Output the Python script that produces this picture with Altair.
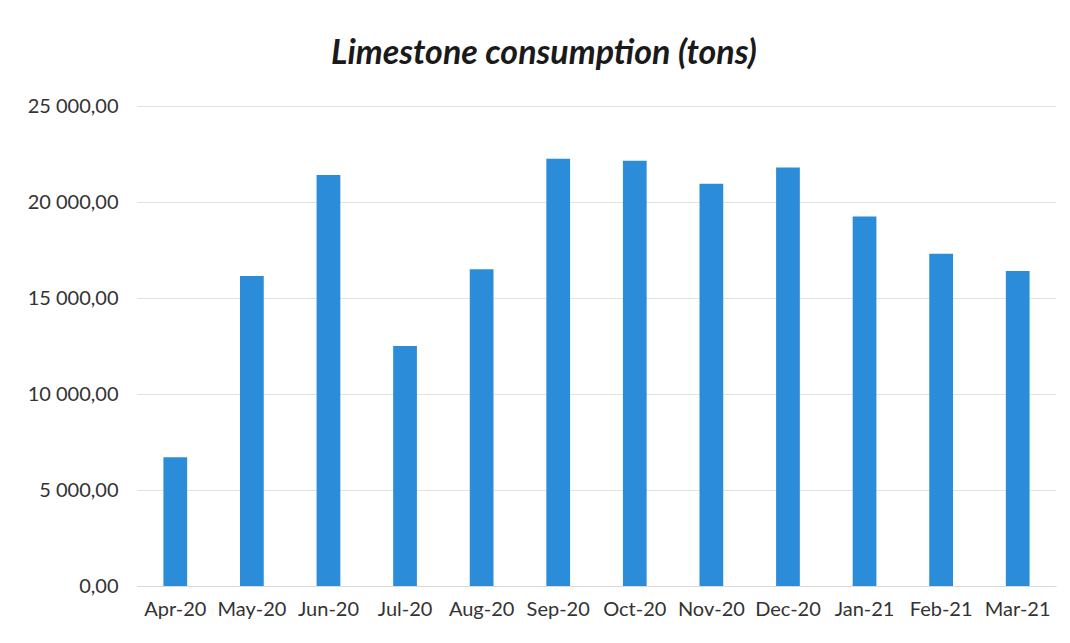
import altair as alt
import pandas as pd

months = ["Apr-20", "May-20", "Jun-20", "Jul-20", "Aug-20", "Sep-20",
          "Oct-20", "Nov-20", "Dec-20", "Jan-21", "Feb-21", "Mar-21"]
consumption = [6700, 16150, 21400, 12500, 16500, 22250,
               22150, 20950, 21800, 19250, 17300, 16400]
y_ticks = [0, 5000, 10000, 15000, 20000, 25000]

df = pd.DataFrame({"month": months, "tons": consumption})

FONT = "Lato"

chart = alt.Chart(df).mark_bar(color="#2B8CD9").encode(
    x=alt.X("month:N", sort=months, title=None,
            scale=alt.Scale(paddingInner=0.69, paddingOuter=0.345),
            axis=alt.Axis(labelAngle=0, labelFontSize=20, labelColor="#333333",
                          labelFont=FONT, ticks=False, tickSize=0, labelPadding=13,
                          domain=True, domainColor="#d9d9d9", domainWidth=1,
                          grid=False)),
    y=alt.Y("tons:Q", title=None,
            scale=alt.Scale(domain=[0, 25000], nice=False),
            axis=alt.Axis(values=y_ticks, labelFontSize=20, labelColor="#333333",
                          labelFont=FONT, ticks=False, tickSize=0, labelPadding=19,
                          domain=False, gridColor="#e3e3e3", gridWidth=1,
                          minExtent=129, maxExtent=129,
                          labelExpr="replace(replace(format(datum.value, ',.2f'), ',', ' '), '.', ',')")),
).properties(
    width=919,
    height=480,
    background="white",
    title=alt.TitleParams("Limestone consumption (tons)", font=FONT, fontSize=34,
                          fontWeight="bold", fontStyle="italic", color="#1a1a1a",
                          anchor="middle", frame="bounds", offset=25, dx=12),
    padding={"left": 0, "top": 29, "right": 5, "bottom": 5},
).configure_view(stroke=None)

chart.save("out.html", embed_options={"renderer": "svg", "actions": False})
